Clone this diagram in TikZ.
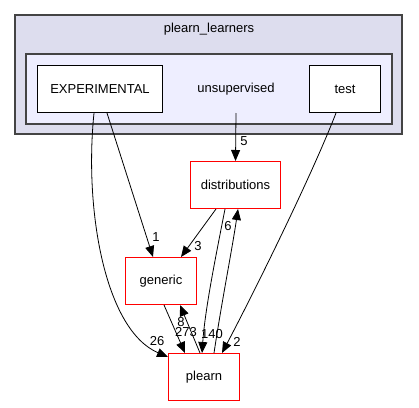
\documentclass[tikz,border=0pt]{standalone}
\usepackage{fontspec}
\setmainfont{Liberation Sans}
\usetikzlibrary{arrows.meta}
\definecolor{outerfill}{HTML}{DDDDEE}
\definecolor{innerfill}{HTML}{EEEEFF}
\definecolor{clusterline}{HTML}{444444}
\definecolor{dirred}{HTML}{FF0000}
\begin{document}
\begin{tikzpicture}[x=1pt,y=-1pt,
  font=\fontsize{13}{15}\selectfont,
  cluster/.style={draw=clusterline,line width=1.3pt,inner sep=0pt},
  dirbox/.style={draw=black,fill=white,line width=1pt,inner sep=0pt,minimum height=47pt},
  redbox/.style={draw=dirred,fill=white,line width=1pt,inner sep=0pt,minimum height=47pt},
  dep/.style={-{Triangle[length=11pt,width=9pt]},line width=0.8pt}]
\useasboundingbox (0,0) rectangle (419,407);
% Draw the clusters
\fill[outerfill] (15,15) rectangle (402,134);
\draw[cluster] (15,15) rectangle (402,134);
\node (learners) at (209,29) {plearn\_learners};
\fill[innerfill] (26,54) rectangle (392,124);
\draw[cluster] (26,54) rectangle (392,124);
\node (unsup) at (236,89) {unsupervised};
\coordinate (unsupout) at (236,113);
% Draw the directories
\node[dirbox,minimum width=125pt] (exper) at (100,89) {EXPERIMENTAL};
\node[dirbox,minimum width=71pt] (test) at (345,89) {test};
\node[redbox,minimum width=90pt] (distrib) at (235.5,185) {distributions};
\node[redbox,minimum width=71pt] (generic) at (161,281) {generic};
\node[redbox,minimum width=71pt] (plearn) at (204,377) {plearn};
% Draw the dependencies
\draw[dep] (unsupout) -- (distrib.north);
\node (l5) at (244,141) {5};
\draw[dep] ([xshift=7pt]exper.south) -- ([xshift=-8pt]generic.north);
\node (l1) at (156,237) {1};
\draw[dep] ([xshift=-6pt]exper.south) .. controls (84,210) and (105,330) .. ([yshift=-4pt]plearn.north west);
\node (l26) at (157,341) {26};
\draw[dep] ([xshift=-9pt]test.south) .. controls (310,180) and (250,300) .. ([xshift=18pt]plearn.north);
\node (l2) at (237,342) {2};
\draw[dep] ([xshift=-19.5pt]distrib.south) -- ([xshift=20pt]generic.north);
\node (l3) at (198,246) {3};
\draw[dep] ([xshift=-10.5pt]distrib.south) .. controls (215,260) and (205,310) .. ([xshift=-2pt]plearn.north);
\node (l140) at (212,334) {140};
\draw[dep] ([xshift=10pt]plearn.north) .. controls (222,300) and (232,250) .. ([xshift=2.5pt]distrib.south);
\node (l6) at (228,226) {6};
\draw[dep] ([xshift=3pt]generic.south) -- ([xshift=-19pt]plearn.north);
\node (l273) at (186,332) {273};
\draw[dep] ([xshift=-4pt]plearn.north) -- ([xshift=19pt]generic.south);
\node (l8) at (181,322) {8};
\end{tikzpicture}
\end{document}
